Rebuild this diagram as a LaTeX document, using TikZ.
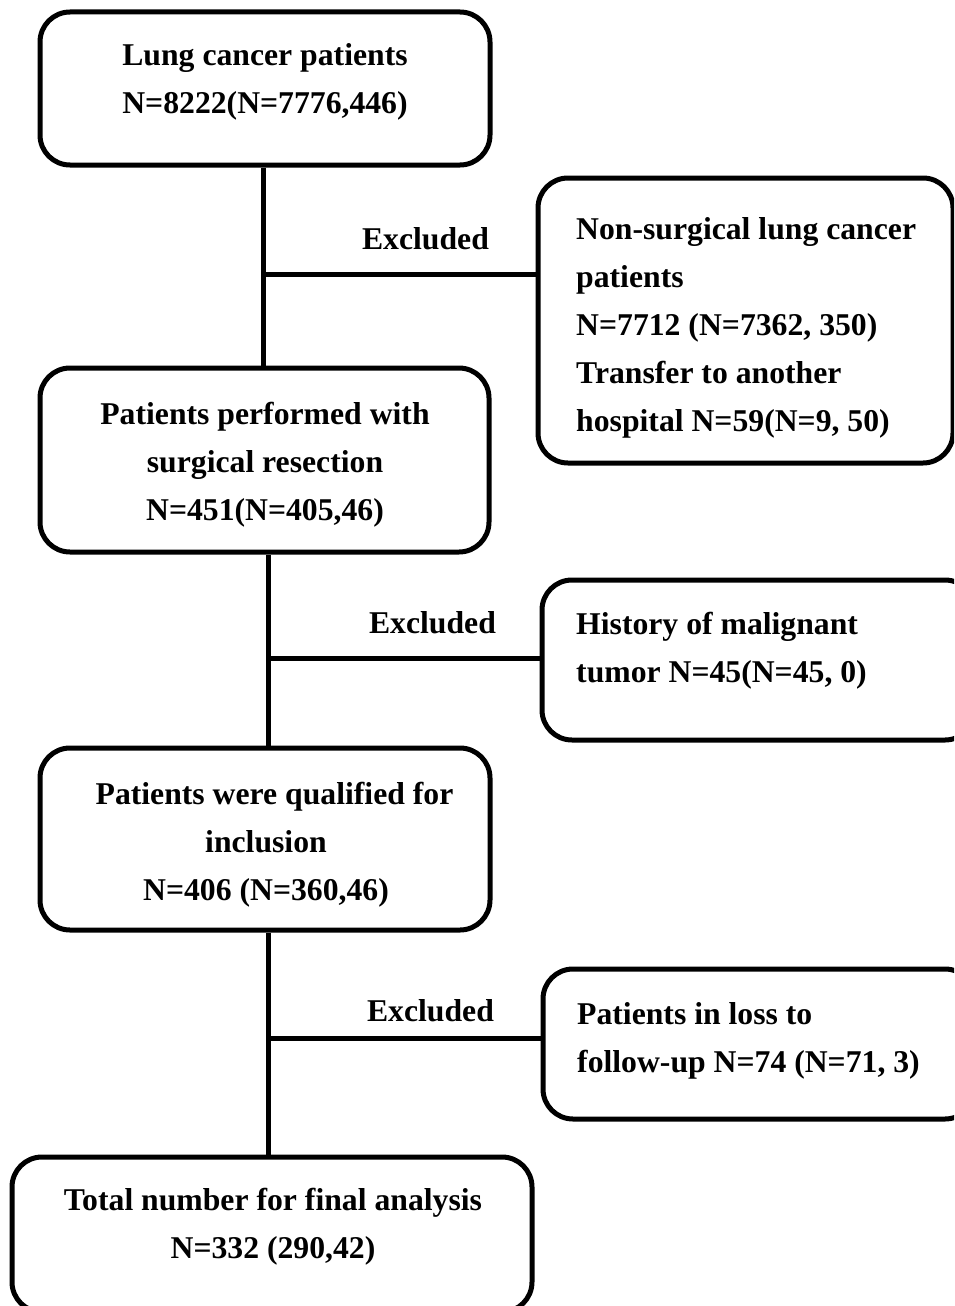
\documentclass[tikz,border=0pt]{standalone}
\usepackage{fontspec}
\setmainfont{Liberation Serif}
\begin{document}
\begin{tikzpicture}[x=1pt,y=-1pt,
  box/.style={draw=black, line width=5pt, rounded corners=30pt, inner sep=0pt},
  txt/.style={inner sep=0pt, anchor=base, font=\fontsize{31.7pt}{48pt}\selectfont\bfseries},
  ltxt/.style={txt, anchor=base west},
  link/.style={draw=black, line width=5pt}]
\useasboundingbox (0,0) rectangle (954,1306);
\clip (0,0) rectangle (954,1306);
% main boxes
\node[box, minimum width=450pt, minimum height=153pt] (b1) at (265,88.5) {};
\node[box, minimum width=449pt, minimum height=184pt] (b2) at (264.5,460) {};
\node[box, minimum width=450pt, minimum height=182pt] (b3) at (265,839) {};
\node[box, minimum width=520pt, minimum height=155pt] (b4) at (272,1234.5) {};
% exclusion boxes
\node[box, minimum width=415pt, minimum height=285pt] (r1) at (745.5,320.5) {};
\node[box, minimum width=433pt, minimum height=160pt] (r2) at (758.5,660) {};
\node[box, minimum width=432pt, minimum height=150pt] (r3) at (759,1044) {};
% texts
\node[txt] (t1) at (265,66) {\begin{tabular}[t]{@{}c@{}}Lung cancer patients\\ N=8222(N=7776,446)\end{tabular}};
\node[txt] (t2) at (265,424) {\begin{tabular}[t]{@{}c@{}}Patients performed with\\ surgical resection\\ N=451(N=405,46)\end{tabular}};
\node[txt] (t3) at (266,804) {\begin{tabular}[t]{@{}c@{}}\hspace*{17pt}Patients were qualified for\\ inclusion\\ N=406 (N=360,46)\end{tabular}};
\node[txt] (t4) at (273,1210) {\begin{tabular}[t]{@{}c@{}}Total number for final analysis\\ N=332 (290,42)\end{tabular}};
\node[ltxt] (s1) at (576,239) {\begin{tabular}[t]{@{}l@{}}Non-surgical lung cancer\\ patients\\ N=7712 (N=7362, 350)\\ Transfer to another\\ hospital N=59(N=9, 50)\end{tabular}};
\node[ltxt] (s2) at (576,634) {\begin{tabular}[t]{@{}l@{}}History of malignant\\ tumor N=45(N=45, 0)\end{tabular}};
\node[ltxt] (s3) at (577,1024) {\begin{tabular}[t]{@{}l@{}}Patients in loss to\\ follow-up N=74 (N=71, 3)\end{tabular}};
% connectors
\coordinate (v1) at (263,0);
\coordinate (v2) at (268,0);
\coordinate (v3) at (268,0);
\draw[link] (b1.south -| v1) -- (b2.north -| v1);
\draw[link] (b2.south -| v2) -- (b3.north -| v2);
\draw[link] (b3.south -| v3) -- (b4.north -| v3);
\coordinate (j1) at (263,274);
\coordinate (j2) at (268,658);
\coordinate (j3) at (268,1038);
\draw[link] (j1) -- (r1.west |- j1);
\draw[link] (j2) -- (r2.west |- j2);
\draw[link] (j3) -- (r3.west |- j3);
% labels
\node[txt] (e1) at (425.5,249) {Excluded};
\node[txt] (e2) at (432.5,633) {Excluded};
\node[txt] (e3) at (430.5,1021) {Excluded};
\end{tikzpicture}
\end{document}
